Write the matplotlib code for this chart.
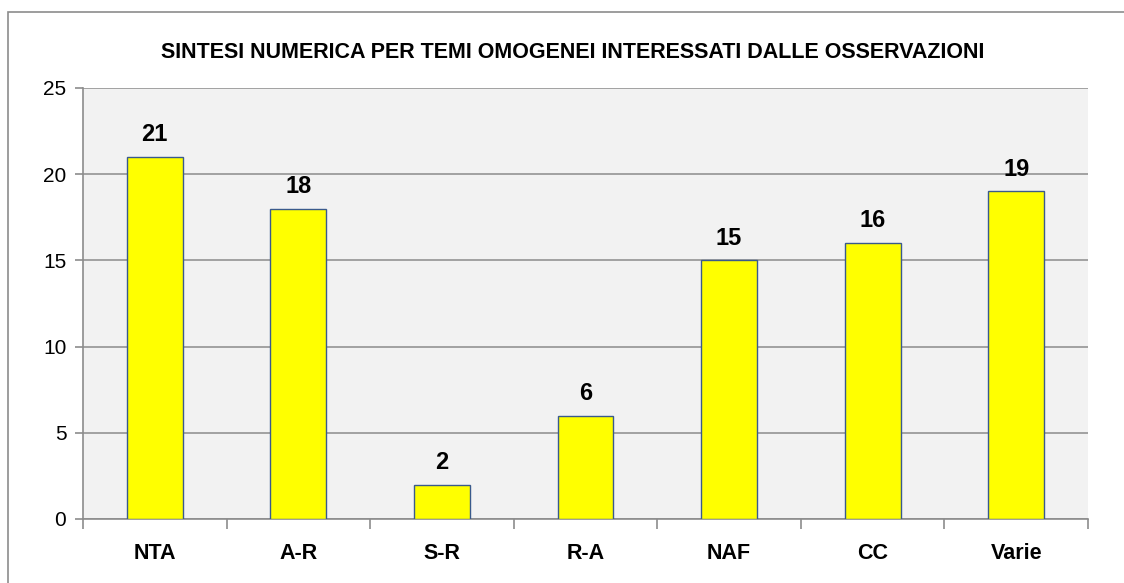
import matplotlib
matplotlib.use("Agg")
import matplotlib.pyplot as plt
from matplotlib.patches import Rectangle
from matplotlib import font_manager

categories = ["NTA", "A-R", "S-R", "R-A", "NAF", "CC", "Varie"]
values = [21, 18, 2, 6, 15, 16, 19]
yticks = [0, 5, 10, 15, 20, 25]
title = "SINTESI NUMERICA PER TEMI OMOGENEI INTERESSATI DALLE OSSERVAZIONI"

names = {f.name for f in font_manager.fontManager.ttflist}
fam = "Liberation Sans Narrow" if "Liberation Sans Narrow" in names else "Liberation Sans"
plt.rcParams['font.family'] = [fam, 'DejaVu Sans']

W, H = 1124, 583
fig = plt.figure(figsize=(W/100, H/100), dpi=100)
fig.patch.set_facecolor("white")
fig.add_artist(Rectangle((8/W, -0.05), 1.2, 1 - 12/H + 0.05, transform=fig.transFigure,
                         fill=False, edgecolor="#8c8c8c", linewidth=1.2))

ax = fig.add_axes([83/W, 1 - 519/H, (1088-83)/W, (519-88)/H])
ax.set_facecolor("#f2f2f2")
x = list(range(len(categories)))
ax.bar(x, values, width=0.39, color="#ffff00", edgecolor="#3a5a8c", linewidth=1.0, zorder=3)
for xi, v in zip(x, values):
    ax.text(xi, v + 0.62, str(v), ha="center", va="bottom", fontsize=17, fontweight="bold", zorder=4)

ax.set_xlim(-0.5, len(categories) - 0.5)
ax.set_ylim(0, 25)
ax.set_yticks(yticks)
ax.set_yticklabels([str(t) for t in yticks], fontsize=15)
ax.yaxis.grid(True, color="#8c8c8c", linewidth=1.1, zorder=1)
ax.set_axisbelow(True)
ax.set_xticks(x)
ax.set_xticklabels(categories, fontsize=15.5, fontweight="bold")
ax.tick_params(axis="x", length=0, pad=17)
ax.set_xticks([i - 0.5 for i in range(len(categories) + 1)], minor=True)
ax.tick_params(axis="x", which="minor", length=7, color="#8c8c8c", width=1.2)
ax.tick_params(axis="y", length=6, color="#8c8c8c", width=1.2, pad=6)
for s in ["top", "right"]:
    ax.spines[s].set_visible(False)
for s in ["left", "bottom"]:
    ax.spines[s].set_color("#8c8c8c")
    ax.spines[s].set_linewidth(1.2)

fig.text(573/W, 1 - 53/H, title, ha="center", va="center", fontsize=15.5, fontweight="bold")

fig.savefig("out.png", dpi=100)
